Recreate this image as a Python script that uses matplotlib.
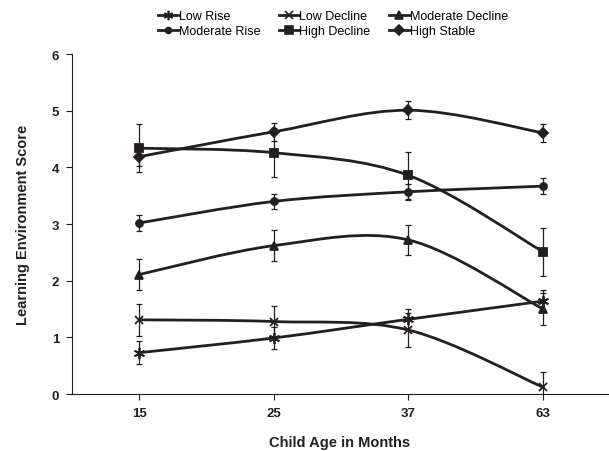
import numpy as np
import matplotlib
matplotlib.use("Agg")
from matplotlib import pyplot as plt
from matplotlib.path import Path
from matplotlib.patches import PathPatch
from matplotlib.lines import Line2D

plt.rcParams['font.family'] = ['Liberation Sans', 'DejaVu Sans']

ages = ["15", "25", "37", "63"]

low_rise = [0.73, 0.99, 1.32, 1.64]
low_rise_err = [0.20, 0.20, 0.19, 0.19]
low_decline = [1.31, 1.28, 1.13, 0.12]
low_decline_err = [0.28, 0.28, 0.30, 0.27]
moderate_decline = [2.11, 2.62, 2.72, 1.50]
moderate_decline_err = [0.27, 0.27, 0.27, 0.28]
moderate_rise = [3.02, 3.40, 3.57, 3.67]
moderate_rise_err = [0.14, 0.13, 0.14, 0.14]
high_decline = [4.34, 4.26, 3.86, 2.51]
high_decline_err = [0.42, 0.43, 0.42, 0.42]
high_stable = [4.19, 4.63, 5.01, 4.61]
high_stable_err = [0.17, 0.16, 0.16, 0.16]

INK = '#231f20'


def smooth_path(x, y):
    ''' Excel-like smoothed line as bezier path '''
    pts = np.column_stack([x, y]).astype(float)
    ext = np.vstack([pts[0], pts, pts[-1]])
    verts = [pts[0]]
    codes = [Path.MOVETO]
    for i in range(len(pts) - 1):
        p0, p1, p2, p3 = ext[i], ext[i + 1], ext[i + 2], ext[i + 3]
        verts += [p1 + (p2 - p0) / 6, p2 - (p3 - p1) / 6, p2]
        codes += [Path.CURVE4] * 3
    return Path(verts, codes)


def draw_series(ax, x, y, err, marker, ms, label):
    ''' Draw one smoothed series with error bars '''
    ax.add_patch(PathPatch(smooth_path(x, y), facecolor='none', edgecolor=INK, lw=2))
    ax.errorbar(x, y, yerr=err, fmt='none', ecolor=INK, elinewidth=0.9, capsize=2.5, capthick=0.9)
    ax.plot(x, y, linestyle='none', marker=marker, markersize=ms, color=INK,
            markeredgecolor=INK, markeredgewidth=1.3)
    return Line2D([], [], color=INK, lw=2, marker=marker, markersize=ms * 0.85,
                  markeredgewidth=1.2, label=label)


fig = plt.figure(figsize=(6.09, 4.52), dpi=100)
ax = fig.add_axes([0.118, 0.126, 0.88, 0.752])
x = np.arange(len(ages))

handles = {}
handles['Low Rise'] = draw_series(ax, x, low_rise, low_rise_err, (6, 2, 0), 8, 'Low Rise')
handles['Low Decline'] = draw_series(ax, x, low_decline, low_decline_err, 'x', 6, 'Low Decline')
handles['Moderate Decline'] = draw_series(ax, x, moderate_decline, moderate_decline_err, '^', 6, 'Moderate Decline')
handles['Moderate Rise'] = draw_series(ax, x, moderate_rise, moderate_rise_err, 'o', 5, 'Moderate Rise')
handles['High Decline'] = draw_series(ax, x, high_decline, high_decline_err, 's', 6, 'High Decline')
handles['High Stable'] = draw_series(ax, x, high_stable, high_stable_err, 'D', 5.5, 'High Stable')

order = ['Low Rise', 'Moderate Rise', 'Low Decline', 'High Decline', 'Moderate Decline', 'High Stable']
fig.legend(handles=[handles[k] for k in order], loc='upper left', bbox_to_anchor=(0.245, 0.994),
           ncol=3, frameon=False, fontsize=9, handlelength=1.6, handletextpad=0.05,
           columnspacing=1.5, labelspacing=0.2, borderaxespad=0.3)

ax.set_xlim(-0.5, 3.48)
ax.set_ylim(0, 6)
ax.set_xticks(x)
ax.set_xticklabels(ages)
ax.set_yticks(range(7))
for lab in ax.get_xticklabels() + ax.get_yticklabels():
    lab.set_fontweight('bold')
    lab.set_fontsize(9.5)
    lab.set_color(INK)
ax.tick_params(direction='out', length=4, width=0.8, colors=INK, pad=5)
ax.spines['top'].set_visible(False)
ax.spines['right'].set_visible(False)
ax.spines['left'].set_color(INK)
ax.spines['bottom'].set_color(INK)
ax.set_xlabel("Child Age in Months", fontsize=10.5, fontweight='bold', color=INK, labelpad=12)
ax.set_ylabel("Learning Environment Score", fontsize=10.5, fontweight='bold', color=INK, labelpad=16)

fig.savefig("out.png", dpi=100)
